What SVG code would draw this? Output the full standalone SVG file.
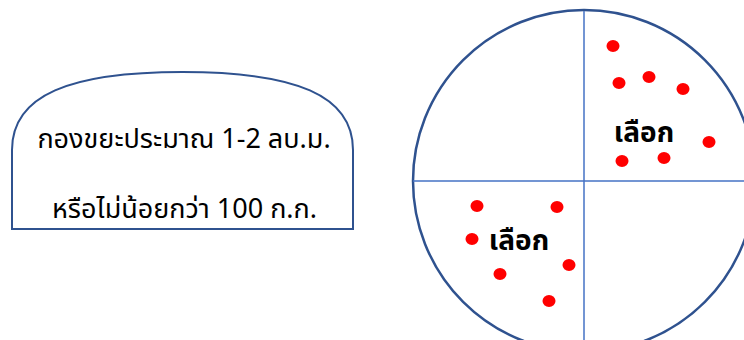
<svg xmlns="http://www.w3.org/2000/svg" width="744" height="340" viewBox="0 0 744 340">
<style>
.t{font-family:"Noto Sans Thai","Noto Sans","DejaVu Sans",sans-serif;font-size:27px;fill:#000}
.b{font-family:"Noto Sans Thai","Noto Sans","DejaVu Sans",sans-serif;font-size:28px;font-weight:bold;fill:#000}
.dot{fill:#FF0000}
</style>
<rect width="744" height="340" fill="#fff"/>
<g id="heap">
<path d="M12,229 V150 C12,95 70,72 182.5,72 C295,72 353,95 353,150 V229 Z" fill="#fff" stroke="#2F528F" stroke-width="2"/>
<text class="t" x="184" y="148" text-anchor="middle">กองขยะประมาณ 1-2 ลบ.ม.</text>
<text class="t" x="184.5" y="218" text-anchor="middle">หรือไม่น้อยกว่า 100 ก.ก.</text>
</g>
<g id="circle">
<circle cx="584" cy="181" r="171" fill="#fff" stroke="#2F528F" stroke-width="2.5"/>
<line x1="584" y1="11" x2="584" y2="340" stroke="#4472C4" stroke-width="1.5"/>
<line x1="413" y1="181" x2="744" y2="181" stroke="#4472C4" stroke-width="1.5"/>
</g>
<g id="q1">
<ellipse class="dot" cx="613" cy="46" rx="6.5" ry="6"/>
<ellipse class="dot" cx="619" cy="83" rx="6.5" ry="6"/>
<ellipse class="dot" cx="649" cy="77" rx="6.5" ry="6"/>
<ellipse class="dot" cx="683" cy="89" rx="6.5" ry="6"/>
<ellipse class="dot" cx="709" cy="142" rx="6.5" ry="6"/>
<ellipse class="dot" cx="622" cy="161" rx="6.5" ry="6"/>
<ellipse class="dot" cx="664" cy="158" rx="6.5" ry="6"/>
<text class="b" x="644" y="142" text-anchor="middle">เลือก</text>
</g>
<g id="q3">
<ellipse class="dot" cx="477" cy="206" rx="6.5" ry="6"/>
<ellipse class="dot" cx="557" cy="207" rx="6.5" ry="6"/>
<ellipse class="dot" cx="472" cy="239" rx="6.5" ry="6"/>
<ellipse class="dot" cx="569" cy="265" rx="6.5" ry="6"/>
<ellipse class="dot" cx="500" cy="274" rx="6.5" ry="6"/>
<ellipse class="dot" cx="549" cy="301" rx="6.5" ry="6"/>
<text class="b" x="519" y="250" text-anchor="middle">เลือก</text>
</g>
<g id="connectors"></g>
</svg>
